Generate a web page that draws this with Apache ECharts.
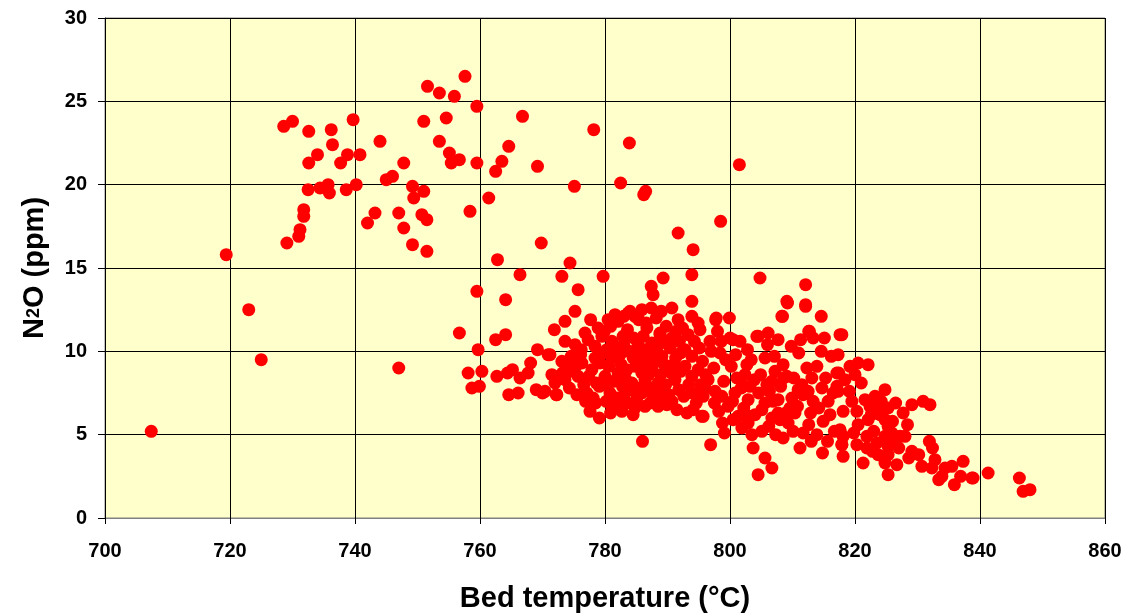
<!DOCTYPE html>
<html>
<head>
<meta charset="utf-8">
<script src="https://cdn.jsdelivr.net/npm/echarts@6/dist/echarts.min.js"></script>
<style>
html,body{margin:0;padding:0;background:#fff;}
#chart{width:1126px;height:614px;}
</style>
</head>
<body>
<div id="chart"></div>
<script>
// Axis ticks
const xTicks = [700, 720, 740, 760, 780, 800, 820, 840, 860];
const yTicks = [0, 5, 10, 15, 20, 25, 30];

// Data: [bed temperature (°C), N2O (ppm)]
const coolRegion = [
[707.4,5.2],[719.4,15.8],[723.0,12.5],[725.0,9.5],[747.0,9.0],
[728.6,23.5],[730.0,23.8],[732.6,23.2],[736.2,23.3],[736.4,22.4],[739.7,23.9],[744.0,22.6],[747.8,21.3],
[734.0,21.8],[732.6,21.3],[738.8,21.8],[737.7,21.3],[740.8,21.8],[745.0,20.3],[746.0,20.5],[749.2,19.9],[751.0,19.6],[749.4,19.2],
[732.5,19.7],[734.4,19.8],[735.7,20.0],[735.9,19.5],[738.6,19.7],[740.2,20.0],[731.8,18.5],[731.8,18.1],[731.2,17.3],[731.0,16.9],[729.1,16.5],
[743.2,18.3],[742.0,17.7],[747.0,18.3],[747.8,17.4],[749.2,16.4],[750.7,18.2],[751.5,17.9],[751.5,16.0],[751.6,25.9],[751.0,23.8]
];
const upperScatter = [
[757.6,26.5],[753.5,25.5],[755.9,25.3],[759.5,24.7],[754.6,24.0],[766.8,24.1],[778.2,23.3],[783.9,22.5],[753.5,22.6],[764.6,22.3],
[755.1,21.9],[755.4,21.3],[756.7,21.5],[759.5,21.3],[763.5,21.4],[762.5,20.8],[769.2,21.1],[801.5,21.2],[775.1,19.9],[782.5,20.1],
[786.5,19.6],[786.2,19.4],[761.4,19.2],[758.4,18.4],[798.5,17.8],[791.7,17.1],[794.1,16.1],[769.8,16.5],[762.8,15.5],[774.4,15.3],
[766.4,14.6],[773.1,14.5],[779.7,14.5],[759.5,13.6],[764.1,13.1],[775.7,13.7],[775.2,12.4],[773.6,11.8],[777.7,11.9],[771.9,11.3],
[756.7,11.1],[764.1,11.0],[762.5,10.7],[759.7,10.1],[769.2,10.1],[770.9,9.8],
[789.3,14.4],[787.4,13.9],[787.7,13.4],[787.4,12.6],[793.9,14.6],[804.8,14.4],[812.1,14.0],[809.1,13.0],[812.1,12.8],[808.3,12.1],
[812.6,11.2],[793.9,13.0],[790.7,12.6],[791.7,11.9],[793.9,12.1],[797.8,12.0],[799.9,12.0],[784.0,12.4]
];
const midLow = [
[758.1,8.7],[760.3,8.8],[762.7,8.5],[764.4,8.7],[765.2,8.9],[768.1,9.3],[767.7,8.7],[766.4,8.4],[758.7,7.8],[759.9,7.9],
[764.6,7.4],[766.1,7.5],[769.0,7.7],[770.0,7.5],[772.2,7.4],[775.5,7.4],[777.1,7.5],[777.6,6.4],[779.1,6.0]
];
const denseCore = [
[781.6,12.2],[783.7,12.3],[784.8,12.1],[786.6,11.7],[794.9,11.7],[776.8,11.1],[780.9,11.5],[783.6,11.3],[786.7,11.4],[788.8,11.1],
[790.7,10.8],[793.3,11.0],[773.6,10.6],[775.2,10.4],[771.2,9.8],[778.4,10.3],[781.1,10.6],[785.3,10.4],[787.5,10.5],[789.1,9.7],
[792.8,10.1],[793.9,9.7],[774.1,9.1],[776.3,9.3],[778.4,9.6],[781.1,9.6],[782.4,9.8],[784.5,9.6],[786.7,9.5],[787.5,9.0],
[790.1,8.9],[792.8,9.1],[772.0,8.1],[773.6,8.3],[775.7,8.5],[777.9,8.9],[780.0,8.5],[782.1,8.7],[784.3,8.1],[786.4,8.3],
[788.5,8.1],[791.2,8.3],[793.9,8.5],[794.9,8.9],[770.4,7.6],[772.3,7.4],[779.1,7.9],[780.8,7.5],[783.2,7.5],[785.1,7.2],
[788.0,7.5],[790.7,7.0],[793.9,7.5],[795.7,7.3],[781.1,6.7],[782.7,6.4],[784.5,6.2],[786.4,6.7],[788.5,6.7],[793.1,6.3],
[794.1,6.5],[795.5,6.1],[786.0,4.6],
[779.5,10.9],[780.3,10.1],[781.8,10.2],[782.9,10.9],[783.9,10.0],[784.6,10.8],[785.8,9.9],[786.1,10.9],[787.9,9.8],[788.6,10.4],
[789.5,9.2],[790.4,10.2],[791.3,9.6],[791.9,10.6],[782.6,9.2],[783.5,8.9],[784.9,9.1],[785.9,8.7],[787.0,8.6],[788.9,8.6],
[789.7,8.0],[790.6,8.7],[792.1,8.8],[780.6,9.1],[779.2,9.3],[781.4,8.2],[782.8,7.9],[784.0,7.7],[785.6,7.8],[786.8,7.9],
[787.6,7.4],[789.4,7.6],[791.8,7.7],[792.6,7.3],[781.9,7.2],[783.6,6.9],[787.2,6.9],[789.9,6.8],[791.5,6.5],[780.2,7.0],
[778.6,8.1],[776.6,8.0],[774.8,8.8],[776.1,9.8],[777.3,10.7],[779.9,11.2],[782.1,11.8],[785.4,11.9],[788.2,12.0],[789.8,11.5],
[792.4,11.4],[794.3,10.6],[795.1,10.2],[795.6,9.4],[796.1,8.6],[795.3,8.0],[774.6,9.7],[773.1,9.4],[771.5,8.6],[776.9,7.0],[778.1,7.2],
[779.8,9.9],[783.0,10.4],[786.4,10.1],[789.9,10.6],[792.1,9.9],[780.4,8.0],[783.2,8.4],[786.1,9.3],[788.1,9.4],[791.0,9.2],
[793.4,8.0],[794.6,6.9],[790.2,7.4],[788.8,7.1],[785.9,7.5],[784.8,6.6],[782.3,6.9],[780.9,6.3],[778.5,6.9],[777.4,8.5],
[775.3,9.1],[773.2,8.7],[774.3,7.8],[791.4,11.2],[789.0,12.4],[785.9,12.5],[783.0,12.1],[780.5,11.9],[778.9,11.4],[776.2,10.1]
];
const warmCluster = [
[809.2,12.9],[812.1,12.7],[808.4,12.1],[814.6,12.1],[812.7,11.2],[815.1,10.8],[817.6,11.0],[797.7,11.9],[800.5,10.7],[801.6,10.6],
[804.5,10.9],[806.1,11.1],[807.7,10.7],[811.0,9.9],[814.6,10.0],[816.2,9.7],[817.3,9.8],[813.9,9.1],[812.3,9.0],[799.3,9.5],
[797.4,9.0],[802.7,9.2],[805.6,9.6],[808.5,9.2],[809.1,8.5],[806.7,8.2],[811.5,8.0],[814.7,7.8],[817.1,8.7],[817.1,7.9],
[815.7,7.0],[813.3,7.0],[811.7,7.4],[809.9,7.2],[807.7,7.1],[805.6,6.9],[802.9,7.1],[800.8,7.5],[798.7,7.3],[796.0,7.8],
[794.9,7.5],[796.5,8.3],[795.7,6.1],[798.2,6.4],[798.8,5.7],[799.1,5.1],[801.3,6.1],[801.9,5.4],[802.9,5.7],[805.1,5.2],
[806.7,6.0],[808.5,4.8],[809.3,5.7],[810.4,6.3],[811.2,4.2],[811.7,5.1],[812.6,5.6],[813.9,5.0],[814.8,3.9],[816.7,5.2],
[817.6,5.2],[817.9,4.4],[796.9,4.4],[803.7,4.2],[805.6,3.6],[806.7,3.0],[804.5,2.6],[803.2,7.9],[805.1,6.5],[807.7,6.3],
[802.1,7.9],[799.7,6.7],[797.6,7.6],[796.8,10.6],[800.0,10.8],[804.3,10.9],[806.0,10.4],[813.3,10.8],[788.8,11.0],[795.2,11.3],
[797.0,10.0],[798.4,9.9],[800.2,9.1],[801.1,8.4],[802.4,8.6],[803.9,8.3],[804.6,7.5],[806.3,7.6],[807.2,8.8],[808.1,7.9],
[810.2,8.4],[810.8,6.7],[812.9,6.3],[814.2,6.6],[816.0,6.2],[815.3,8.4],[816.5,7.5],[813.1,8.4],[804.0,6.2],[802.2,6.6],
[800.5,5.9],[803.5,5.0],[806.2,5.5],[808.0,5.9],[809.6,6.6],[797.5,6.9],[799.0,8.2],[800.9,9.8],[802.8,10.1],[803.4,9.5],
[807.1,9.7],[809.8,10.3],[811.3,10.7],[798.6,10.6],[798.0,11.2],
[804.9,8.6],[806.9,7.0],[808.9,6.3],[810.9,7.7],[812.5,7.6],[814.9,5.8],[815.6,4.6],[813.0,4.6],[810.1,5.2],[807.3,5.0],
[800.4,7.0],[801.8,7.8],[803.0,6.1],[805.9,8.0],[808.6,8.4]
];
const hotTail = [
[817.9,11.0],[819.2,9.1],[820.5,9.3],[822.1,9.2],[817.4,8.7],[818.4,8.3],[817.3,7.6],[824.8,7.7],[823.2,7.3],[821.6,7.1],
[819.5,7.0],[829.1,6.8],[830.9,7.0],[832.0,6.8],[825.3,6.6],[823.7,6.6],[827.7,6.3],[820.3,6.4],[818.1,6.4],[822.1,5.9],
[820.5,5.6],[824.8,5.9],[825.3,5.5],[827.2,4.9],[817.6,5.3],[818.1,4.9],[821.9,4.9],[824.8,4.9],[817.9,4.4],[820.3,4.4],
[821.9,4.2],[818.1,3.7],[821.3,3.3],[823.7,3.8],[824.8,3.3],[825.3,3.8],[826.7,3.2],[829.1,4.0],[825.3,2.6],[825.3,4.3],
[831.9,4.6],[832.4,4.2],[830.7,3.1],[832.8,3.5],[833.4,2.3],[833.9,2.5],[835.5,3.1],[837.3,3.4],[835.9,2.0],[836.9,2.5],
[838.7,2.4],[841.3,2.7],[846.3,2.4],[846.9,1.6],[848.0,1.7],[838.9,2.4],[828.0,4.9],[832.3,3.0],
[823.0,5.2],[826.0,5.8],[822.6,6.2],[819.8,5.1],[823.5,4.5],[826.3,4.6],[824.2,7.0],[826.5,6.9],[828.4,5.6],[819.1,7.6],
[821.0,8.1],[820.0,8.6],[822.4,6.7],[824.0,6.2],[825.9,5.1],[827.0,4.2],[828.6,3.6],[830.2,3.8],[834.4,3.0],[822.8,4.0]
];

const allPoints = [].concat(coolRegion, upperScatter, midLow, denseCore, warmCluster, hotTail);

const chart = echarts.init(document.getElementById('chart'), null, {renderer: 'canvas'});
const FONT = '"Liberation Sans", Arial, sans-serif';
chart.setOption({
  animation: false,
  backgroundColor: '#ffffff',
  grid: {
    left: 105, right: 21, top: 18, bottom: 96,
    outerBoundsMode: 'none',
    containLabel: false,
    show: true, backgroundColor: '#FFFFCC', borderColor: '#808080', borderWidth: 1
  },
  xAxis: {
    type: 'value',
    min: xTicks[0], max: xTicks[xTicks.length - 1], interval: 20,
    name: 'Bed temperature (°C)',
    nameLocation: 'middle', nameGap: 66,
    nameTextStyle: {fontFamily: FONT, fontWeight: 'bold', fontSize: 29, color: '#000'},
    axisLine: {show: true, onZero: false, lineStyle: {color: '#808080', width: 1}},
    axisTick: {show: true, length: 6, lineStyle: {color: '#000'}},
    axisLabel: {fontFamily: FONT, fontWeight: 'bold', fontSize: 20, color: '#000', margin: 23},
    splitLine: {show: true, lineStyle: {color: '#000', width: 1}}
  },
  yAxis: {
    type: 'value',
    min: yTicks[0], max: yTicks[yTicks.length - 1], interval: 5,
    name: '{n|N}{s|2}{n|O (ppm)}',
    nameLocation: 'middle', nameGap: 56,
    nameTextStyle: {
      rich: {
        n: {fontFamily: FONT, fontWeight: 'bold', fontSize: 29, color: '#000'},
        s: {fontFamily: FONT, fontWeight: 'bold', fontSize: 18, color: '#000'}
      }
    },
    axisLine: {show: true, lineStyle: {color: '#000', width: 1}},
    axisTick: {show: true, length: 7, lineStyle: {color: '#000'}},
    axisLabel: {fontFamily: FONT, fontWeight: 'bold', fontSize: 20, color: '#000', margin: 18},
    splitLine: {show: true, lineStyle: {color: '#000', width: 1}}
  },
  series: [{
    type: 'scatter',
    data: allPoints,
    symbol: 'circle',
    symbolSize: 13,
    itemStyle: {color: '#FF0000', opacity: 1}
  }]
});
</script>
</body>
</html>
